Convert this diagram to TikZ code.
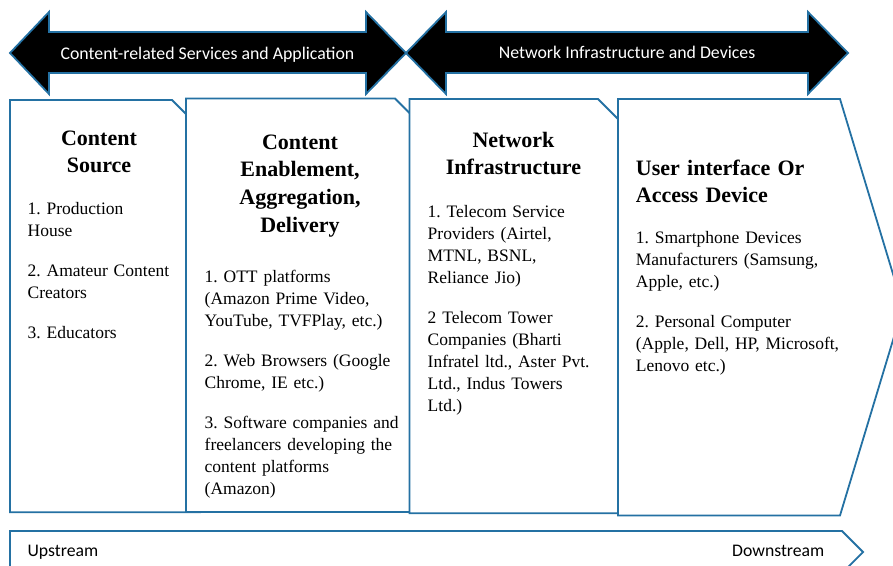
\documentclass[tikz,border=0pt]{standalone}
\usepackage{fontspec}
\setmainfont{Liberation Serif}
\newfontfamily\calfont{Carlito}
\definecolor{edgeblue}{HTML}{2471A3}
\frenchspacing
\begin{document}
\begin{tikzpicture}[x=1pt,y=-1pt,
  band/.style={draw=edgeblue,line width=1.8pt,fill=black,line join=miter},
  panel/.style={draw=edgeblue,line width=1.8pt,fill=white,line join=miter},
  bandtext/.style={inner sep=0pt,anchor=base,text=white,font=\calfont\fontsize{17.8}{21}\selectfont},
  flowtext/.style={inner sep=0pt,text=black,font=\calfont\fontsize{17.7}{21}\selectfont},
  heading/.style={inner sep=0pt,anchor=base,text width=200pt,align=center,font=\fontsize{22}{27.6}\selectfont\bfseries},
  headleft/.style={inner sep=0pt,anchor=base west,text width=250pt,align=left,font=\fontsize{22}{27.6}\selectfont\bfseries},
  items/.style={inner sep=0pt,anchor=base west,text width=260pt,align=left,font=\fontsize{17.5}{22}\selectfont\frenchspacing}]
\useasboundingbox (0,0) rectangle (893,565);

% top double arrows
\draw[band] (10,53) -- (49,12) -- (49,32) -- (366,32) -- (366,12) -- (406,53)
  -- (366,94) -- (366,73) -- (49,73) -- (49,94) -- cycle;
\draw[band] (406,53) -- (446,12) -- (446,32) -- (808,32) -- (808,12) -- (848,53)
  -- (808,94) -- (808,73) -- (446,73) -- (446,94) -- cycle;
\node[bandtext] (content) at (207.5,59.3) {Content-related Services and Application};
\node[bandtext] (network) at (627,58.8) {Network Infrastructure and Devices};

% stage panels, each one overlapping the notch of the previous
\draw[panel] (10,100) -- (172,100) -- (200,128) -- (200,512.3) -- (10,512.3) -- cycle;
\draw[panel] (186,98.5) -- (395,98.5) -- (423,126.5) -- (423,512) -- (186,512) -- cycle;
\draw[panel] (409.5,99) -- (598,99) -- (632,133) -- (632,513.3) -- (409.5,513.3) -- cycle;
\draw[panel] (618,99) -- (840,99) -- (903,307) -- (840,515.5) -- (618,515.5) -- cycle;

% stage 1
\node[heading] (s1title) at (99,145) {Content\\Source};
\node[items] (s1list) at (27.5,214.3) {1. Production\\House\\[18pt]2. Amateur Content\\Creators\\[18pt]3. Educators};

% stage 2
\node[heading] (s2title) at (300,149.3) {Content\\Enablement,\\Aggregation,\\Delivery};
\node[items] (s2list) at (204.5,282.7) {1. OTT platforms\\(Amazon Prime Video,\\YouTube, TVFPlay, etc.)\\[18pt]2. Web Browsers (Google\\Chrome, IE etc.)\\[18pt]3. Software companies and\\freelancers developing the\\content platforms\\(Amazon)};

% stage 3
\node[heading] (s3title) at (513.5,147.3) {Network\\Infrastructure};
\node[items] (s3list) at (427.5,217.3) {1. Telecom Service\\Providers (Airtel,\\MTNL, BSNL,\\Reliance Jio)\\[18pt]2 Telecom Tower\\Companies (Bharti\\Infratel ltd., Aster Pvt.\\Ltd., Indus Towers\\Ltd.)};

% stage 4
\node[headleft] (s4title) at (635.7,175) {User interface Or\\Access Device};
\node[items] (s4list) at (635.7,243.3) {1. Smartphone Devices\\Manufacturers (Samsung,\\Apple, etc.)\\[18pt]2. Personal Computer\\(Apple, Dell, HP, Microsoft,\\Lenovo etc.)};

% value-chain direction
\draw[panel] (10,531) -- (842,531) -- (863,552) -- (842,573) -- (10,573) -- cycle;
\node[flowtext,anchor=base west] (up) at (27.4,556.7) {Upstream};
\node[flowtext,anchor=base east] (down) at (824.5,556.7) {Downstream};
\end{tikzpicture}
\end{document}
